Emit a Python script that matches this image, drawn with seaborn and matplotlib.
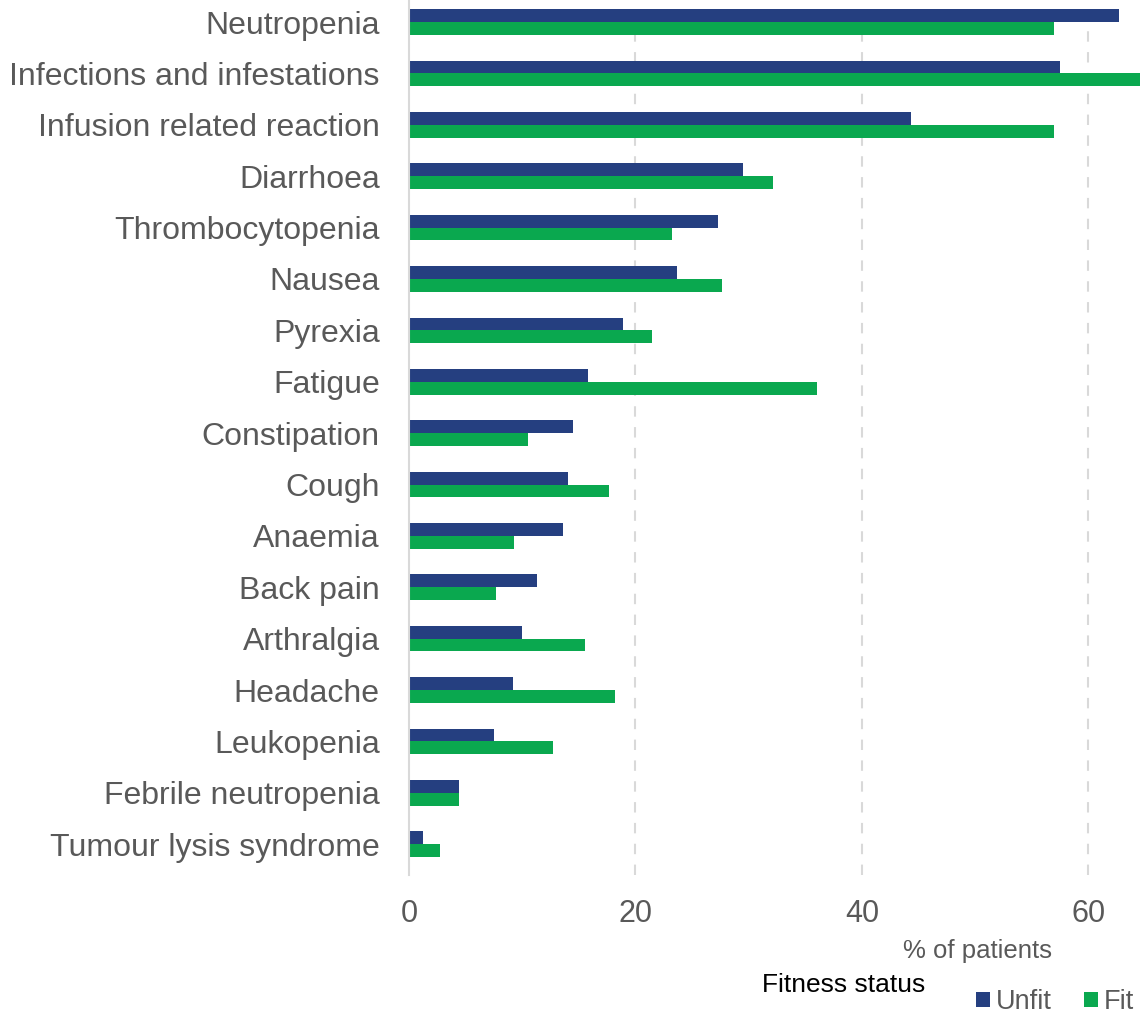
import matplotlib
matplotlib.use("Agg")
import matplotlib.pyplot as plt
import seaborn as sns
import pandas as pd

# Adverse events, % of patients by fitness status
events = [
    "Neutropenia", "Infections and infestations", "Infusion related reaction",
    "Diarrhoea", "Thrombocytopenia", "Nausea", "Pyrexia", "Fatigue",
    "Constipation", "Cough", "Anaemia", "Back pain", "Arthralgia",
    "Headache", "Leukopenia", "Febrile neutropenia", "Tumour lysis syndrome",
]
unfit = [62.7, 57.5, 44.3, 29.5, 27.3, 23.7, 18.9, 15.8, 14.5, 14.0,
         13.6, 11.3, 10.0, 9.2, 7.5, 4.4, 1.2]
fit = [57.0, 65.0, 57.0, 32.1, 23.2, 27.6, 21.5, 36.0, 10.5, 17.7,
       9.3, 7.7, 15.5, 18.2, 12.7, 4.4, 2.7]
statuses = ["Unfit", "Fit"]
colors = ["#253F80", "#0AA84F"]
x_ticks = [0, 20, 40, 60]

df = pd.DataFrame({
    "event": events * 2,
    "pct": unfit + fit,
    "status": ["Unfit"] * len(events) + ["Fit"] * len(events),
})

sns.set_theme(style="white")
plt.rcParams["font.family"] = ["Liberation Sans", "DejaVu Sans"]
grey = "#595959"

fig = plt.figure(figsize=(11.4, 10.15), dpi=100)
ax = fig.add_axes([409 / 1140, 1 - 875 / 1015, 731 / 1140, 875 / 1015])

sns.barplot(data=df, y="event", x="pct", hue="status", order=events,
            hue_order=statuses, palette=colors, orient="h", width=0.5,
            saturation=1, linewidth=0, ax=ax)

ax.set_xlim(0, 64.55)
ax.set_ylim(16.6, -0.43)
ax.set_xticks(x_ticks)
ax.set_xticklabels([str(t) for t in x_ticks])
ax.grid(False)
for t in x_ticks[1:]:
    ax.axvline(t, color="#d9d9d9", lw=1.5, ls=(0, (5, 5)), zorder=0)

for side in ["top", "right", "bottom"]:
    ax.spines[side].set_visible(False)
ax.spines["left"].set_color("#d9d9d9")
ax.spines["left"].set_linewidth(1.5)

ax.tick_params(axis="y", length=0, pad=21, labelsize=23, labelcolor=grey)
ax.tick_params(axis="x", length=0, pad=17, labelsize=22, labelcolor=grey)
ax.set_ylabel("")
ax.set_xlabel("% of patients", fontsize=18.5, color=grey, ha="right", va="center")
ax.xaxis.set_label_coords((1052 - 409) / 731, -76 / 875)

handles, labels = ax.get_legend_handles_labels()
ax.get_legend().remove()
fig.legend(handles, labels, loc="center right",
           bbox_to_anchor=(1134 / 1140, 1 - 1002 / 1015),
           ncol=2, frameon=False, handlelength=0.52, handleheight=0.52,
           handletextpad=0.22, columnspacing=1.18, fontsize=19.5,
           labelcolor=grey, borderaxespad=0, borderpad=0)
fig.text(762 / 1140, 1 - 985 / 1015, "Fitness status", fontsize=19,
         color="black", ha="left", va="center")

fig.savefig("out.png", dpi=100)
